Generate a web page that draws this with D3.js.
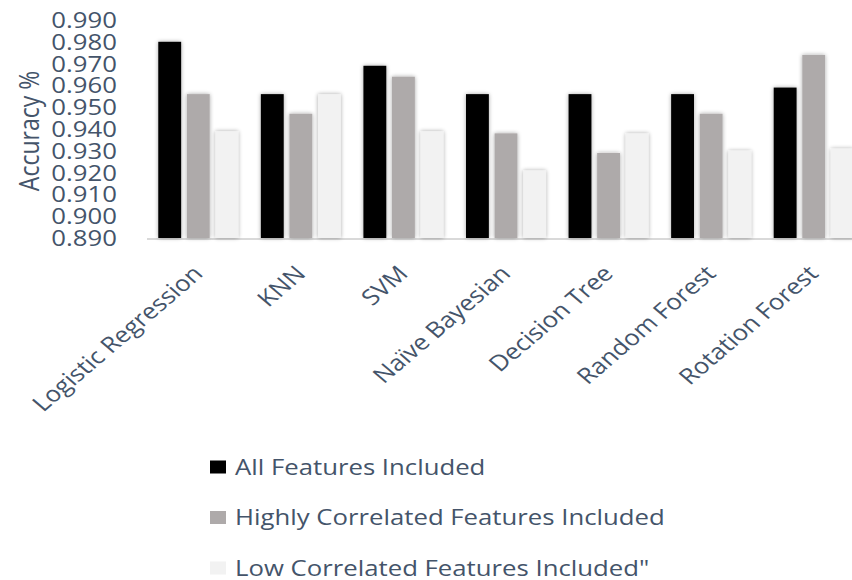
<!DOCTYPE html>
<html>
<head>
<meta charset="utf-8">
<script src="https://cdn.jsdelivr.net/npm/d3@7"></script>
<style>
  html, body { margin: 0; padding: 0; background: #fff; }
  svg { display: block; }
  text { font-family: "Open Sans", "Noto Sans", sans-serif; fill: #44546a; }
</style>
</head>
<body>
<svg id="chart" width="852" height="580"></svg>
<script>
const categories = ["Logistic Regression", "KNN", "SVM", "Naïve Bayesian", "Decision Tree", "Random Forest", "Rotation Forest"];
const seriesNames = ["All Features Included", "Highly Correlated Features Included", "Low Correlated Features Included\""];
const allFeatures = [0.980, 0.956, 0.969, 0.956, 0.956, 0.956, 0.959];
const highlyCorrelated = [0.956, 0.947, 0.964, 0.938, 0.929, 0.947, 0.974];
const lowCorrelated = [0.939, 0.956, 0.939, 0.921, 0.938, 0.930, 0.931];
const yTicks = [0.890, 0.900, 0.910, 0.920, 0.930, 0.940, 0.950, 0.960, 0.970, 0.980, 0.990];
const colors = ["#000000", "#aeaaaa", "#f2f2f2"];
const yTitle = "Accuracy %";

const series = [allFeatures, highlyCorrelated, lowCorrelated];
const SX = 1.17; // horizontal text stretch

const svg = d3.select("#chart");
const defs = svg.append("defs");
const f = defs.append("filter").attr("id", "shadow").attr("x", "-30%").attr("y", "-10%").attr("width", "160%").attr("height", "120%");
f.append("feGaussianBlur").attr("in", "SourceAlpha").attr("stdDeviation", 2.2).attr("result", "b");
f.append("feOffset").attr("in", "b").attr("dx", 0).attr("dy", 0).attr("result", "o");
f.append("feComponentTransfer").attr("in", "o").attr("result", "s")
  .append("feFuncA").attr("type", "linear").attr("slope", 0.35);
const m = f.append("feMerge");
m.append("feMergeNode").attr("in", "s");
m.append("feMergeNode").attr("in", "SourceGraphic");

const y = d3.scaleLinear().domain([0.89, 0.99]).range([238, 20]);
const x = d3.scaleBand().domain(categories).range([147, 865]).paddingInner(0.22).paddingOuter(0.11);
const xs = d3.scaleBand().domain(d3.range(series.length)).range([0, x.bandwidth()]).paddingInner(0.2);

// axis line
svg.append("line")
  .attr("x1", 147).attr("x2", 852)
  .attr("y1", y(0.89) + 1).attr("y2", y(0.89) + 1)
  .attr("stroke", "#d9d9d9").attr("stroke-width", 2);

// bars
const groups = svg.selectAll("g.grp").data(categories).join("g")
  .attr("class", "grp")
  .attr("transform", d => `translate(${x(d)},0)`);
groups.selectAll("rect").data((d, i) => series.map((s, k) => ({k, v: s[i]}))).join("rect")
  .attr("x", d => xs(d.k))
  .attr("width", xs.bandwidth())
  .attr("y", d => y(d.v))
  .attr("height", d => y(0.89) - y(d.v))
  .attr("fill", d => colors[d.k])
  .attr("filter", "url(#shadow)");

// y tick labels
svg.selectAll("text.ytick").data(yTicks).join("text")
  .attr("class", "ytick")
  .attr("transform", d => `translate(117,${y(d)}) scale(${SX},1)`)
  .attr("text-anchor", "end")
  .attr("dy", "0.36em")
  .style("font-size", "22px")
  .text(d => d3.format(".3f")(d));

// y title
svg.append("text")
  .attr("transform", `translate(39,131) scale(${SX},1) rotate(-90)`)
  .attr("text-anchor", "middle")
  .style("font-size", "23px")
  .text(yTitle);

// category labels
svg.selectAll("text.xlab").data(categories).join("text")
  .attr("class", "xlab")
  .attr("transform", d => `translate(${x(d) + x.bandwidth() / 2 + 6},275) scale(${SX},1) rotate(-45)`)
  .attr("text-anchor", "end")
  .style("font-size", "22px")
  .text(d => d);

// legend
const lg = svg.selectAll("g.leg").data(seriesNames).join("g")
  .attr("class", "leg")
  .attr("transform", (d, i) => `translate(210,${467 + i * 50.5})`);
lg.append("rect")
  .attr("x", 0).attr("y", -6.5).attr("width", 16).attr("height", 13)
  .attr("fill", (d, i) => colors[i]);
lg.append("text")
  .attr("transform", `translate(25,0) scale(${SX},1)`)
  .attr("dy", "0.36em")
  .style("font-size", "22px")
  .text(d => d);
</script>
</body>
</html>
